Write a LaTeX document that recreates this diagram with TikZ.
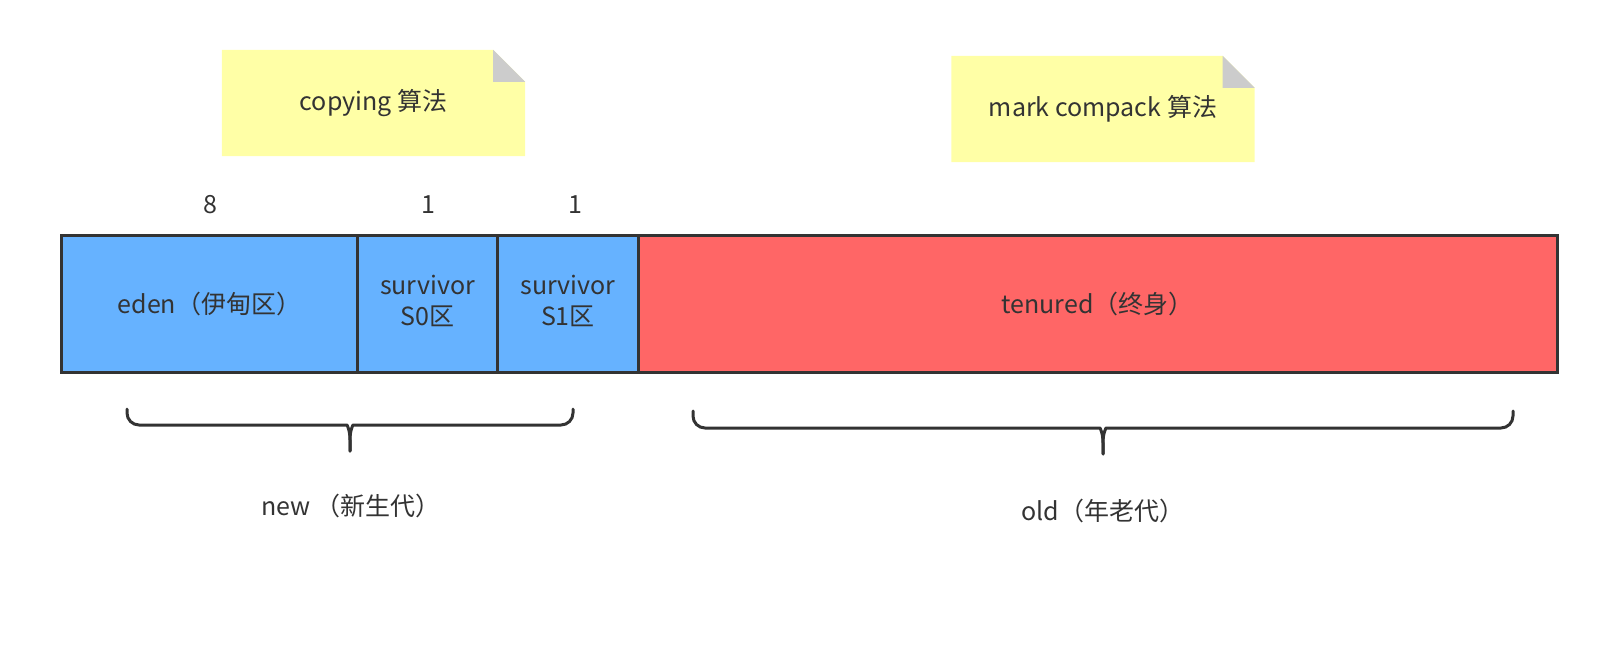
\documentclass[tikz,border=0pt]{standalone}
\usepackage{fontspec}
\setmainfont{Noto Sans CJK SC}
\usetikzlibrary{backgrounds,calc}
\definecolor{txt}{HTML}{333333}
\definecolor{edge}{HTML}{333333}
\definecolor{blueF}{HTML}{66B2FF}
\definecolor{redF}{HTML}{FF6666}
\definecolor{noteF}{HTML}{FFFFA6}
\definecolor{foldF}{HTML}{CCCCCC}
\newcommand{\twolines}[2]{\raisebox{-2pt}{\begin{tabular}{@{}c@{}}#1\\#2\end{tabular}}}
\begin{document}
\begin{tikzpicture}[x=1pt,y=-1pt,
  every node/.style={text=txt, font=\fontsize{25}{31}\selectfont},
  cell/.style={draw=edge, line width=3pt, minimum height=136.5pt, inner sep=0pt, align=center},
  notebox/.style={minimum width=303pt, minimum height=106pt, inner sep=0pt},
  brace/.style={draw=edge, line width=3pt, line join=round, line cap=round}]
\useasboundingbox (0,0) rectangle (1606,646);

% notes
\node[notebox] (copy) at (373.5,103) {\raisebox{-3pt}{copying 算法}};
\node[notebox] (mark) at (1103,109) {\raisebox{-3pt}{mark compack 算法}};
\begin{pgfonlayer}{background}
\foreach \n in {copy,mark}{
  \fill[noteF] (\n.north west) -- ([xshift=-32pt]\n.north east) -- ([yshift=-32pt]\n.north east) -- (\n.south east) -- (\n.south west) -- cycle;
  \fill[foldF] ([xshift=-32pt]\n.north east) -- ([xshift=-32pt,yshift=-32pt]\n.north east) -- ([yshift=-32pt]\n.north east) -- cycle;
}
\end{pgfonlayer}

% sizes
\node (n8) at (210,205) {8};
\node (n1a) at (428,205) {1};
\node (n1b) at (575.5,205) {1};

% cells
\node[cell, fill=blueF, minimum width=295.9pt] (eden) at (209.5,303.75) {\raisebox{-2pt}{eden（伊甸区）}};
\node[cell, fill=blueF, minimum width=140.4pt] (s0) at (427.6,303.75) {\twolines{survivor}{S0区}};
\node[cell, fill=blueF, minimum width=140.2pt] (s1) at (567.9,303.75) {\twolines{survivor}{S1区}};
\node[cell, fill=redF, minimum width=919pt] (ten) at (1097.5,303.75) {\raisebox{-2pt}{tenured（终身）}};

% braces
\coordinate (b1l) at (127,409);
\coordinate (b1r) at (573,409);
\coordinate (b1t) at (350,451);
\draw[brace] (b1l) [rounded corners=12pt] -- (b1l |- 0,425) -- (335,425) [sharp corners] .. controls (347,425) and (350,430) .. (350,440) -- (b1t);
\draw[brace] (b1r) [rounded corners=12pt] -- (b1r |- 0,425) -- (365,425) [sharp corners] .. controls (353,425) and (350,430) .. (350,440) -- (b1t);

\coordinate (b2l) at (693,411);
\coordinate (b2r) at (1513,411);
\coordinate (b2t) at (1103,454);
\draw[brace] (b2l) [rounded corners=12pt] -- (b2l |- 0,428) -- (1088,428) [sharp corners] .. controls (1100,428) and (1103,433) .. (1103,443) -- (b2t);
\draw[brace] (b2r) [rounded corners=12pt] -- (b2r |- 0,428) -- (1118,428) [sharp corners] .. controls (1106,428) and (1103,433) .. (1103,443) -- (b2t);

% labels
\node (new) at (351,506) {new （新生代）};
\node (old) at (1103,511) {old（年老代）};
\end{tikzpicture}
\end{document}
